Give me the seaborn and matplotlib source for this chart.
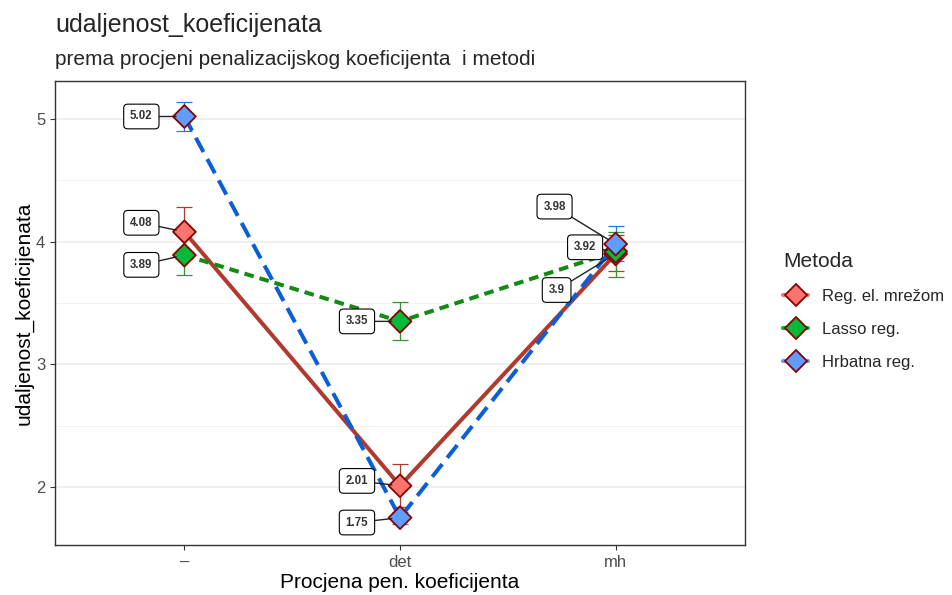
import pandas as pd
import numpy as np
import matplotlib.pyplot as plt
import seaborn as sns
from matplotlib.lines import Line2D

sns.set_style("white")
plt.rcParams['font.family'] = ['Liberation Sans', 'DejaVu Sans']

# Podaci očitani s grafa
procjene = ['–', 'det', 'mh']
metode = ['Reg. el. mrežom', 'Lasso reg.', 'Hrbatna reg.']

reg_el = [4.08, 2.01, 3.90]
lasso = [3.89, 3.35, 3.92]
hrbatna = [5.02, 1.75, 3.98]

reg_el_donja = [3.88, 1.84, 3.76]
reg_el_gornja = [4.28, 2.185, 4.05]
lasso_donja = [3.73, 3.20, 3.71]
lasso_gornja = [4.05, 3.51, 4.08]
hrbatna_donja = [4.90, 1.70, 3.84]
hrbatna_gornja = [5.14, 1.80, 4.13]

# Boje i stilovi
boje_ispune = {'Reg. el. mrežom': '#F8766D', 'Lasso reg.': '#00BA38', 'Hrbatna reg.': '#619CFF'}
boje_linija = {'Reg. el. mrežom': '#B03A2E', 'Lasso reg.': '#148A14', 'Hrbatna reg.': '#0B5ED7'}
boje_greske = {'Reg. el. mrežom': '#B03A2E', 'Lasso reg.': '#2E9A2E', 'Hrbatna reg.': '#2A76DD'}
crtice = {'Reg. el. mrežom': '', 'Lasso reg.': (2.4, 1.5), 'Hrbatna reg.': (4, 2)}

# pomaci oznaka (u točkama)
pomaci = {
    'Reg. el. mrežom': [(-31, 6.5), (-31, 3.5), (-42.5, -26)],
    'Lasso reg.': [(-31, -7), (-31, 0), (-22, 3)],
    'Hrbatna reg.': [(-31, 0), (-31, -3.5), (-44, 27)],
}

# Tablica u dugom formatu
vrijednosti = [reg_el, lasso, hrbatna]
donje = [reg_el_donja, lasso_donja, hrbatna_donja]
gornje = [reg_el_gornja, lasso_gornja, hrbatna_gornja]
redovi = []
for m, v, d, g in zip(metode, vrijednosti, donje, gornje):
    for i, p in enumerate(procjene):
        redovi.append({'metoda': m, 'procjena': p, 'x': i,
                       'vrijednost': v[i], 'donja': d[i], 'gornja': g[i]})
df = pd.DataFrame(redovi)

fig, ax = plt.subplots(figsize=(9.52, 5.95), dpi=100)
fig.subplots_adjust(left=0.0578, right=0.7826, top=0.864, bottom=0.084)

# Stupci pogreške
for m in metode:
    d = df[df['metoda'] == m]
    ax.errorbar(d['x'], d['vrijednost'],
                yerr=[d['vrijednost'] - d['donja'], d['gornja'] - d['vrijednost']],
                fmt='none', ecolor=boje_greske[m], elinewidth=0.9,
                capsize=5.8, capthick=0.9, zorder=2)

# Linije
sns.lineplot(data=df, x='x', y='vrijednost', hue='metoda', style='metoda',
             hue_order=metode, style_order=metode, palette=boje_linija,
             dashes=crtice, lw=2.9, legend=False, errorbar=None, ax=ax, zorder=3)

# Točke
sns.scatterplot(data=df, x='x', y='vrijednost', hue='metoda', hue_order=metode,
                palette=boje_ispune, marker='D', s=135, edgecolor='#8B0000',
                linewidth=1.3, legend=False, ax=ax, zorder=4)

# Oznake vrijednosti
for m in metode:
    d = df[df['metoda'] == m].reset_index(drop=True)
    for i, red in d.iterrows():
        ax.annotate(f"{red['vrijednost']:g}", xy=(red['x'], red['vrijednost']),
                    xytext=pomaci[m][i], textcoords='offset points',
                    ha='center', va='center', fontsize=8.3, fontweight='bold',
                    color='#333333', zorder=5,
                    bbox=dict(boxstyle='round,pad=0.55,rounding_size=0.35',
                              fc='white', ec='black', lw=0.8),
                    arrowprops=dict(arrowstyle='-', color='#222222', lw=1.0,
                                    shrinkA=0, shrinkB=6))

# Osi
ax.set_xlim(-0.6, 2.6)
ax.set_ylim(1.527, 5.31)
ax.set_xticks(range(len(procjene)))
ax.set_xticklabels(procjene)
ax.set_yticks([2, 3, 4, 5])
ax.set_yticks([2.5, 3.5, 4.5], minor=True)
ax.yaxis.grid(True, which='major', color='#EBEBEB', lw=1.1)
ax.yaxis.grid(True, which='minor', color='#F3F3F3', lw=0.7)
ax.xaxis.grid(False)
ax.set_axisbelow(True)
for s in ax.spines.values():
    s.set_color('#333333')
    s.set_linewidth(1.0)
ax.tick_params(axis='both', which='major', length=3.5, width=0.8, color='#333333',
               labelcolor='#4D4D4D', labelsize=12, direction='out', left=True, bottom=True)
ax.tick_params(axis='both', which='minor', length=0)

ax.set_xlabel('Procjena pen. koeficijenta', fontsize=15, color='black', labelpad=2)
ax.set_ylabel('udaljenost_koeficijenata', fontsize=15, color='black', labelpad=2)

fig.text(0.0578, 0.946, 'udaljenost_koeficijenata', fontsize=18, va='baseline', ha='left')
fig.text(0.0578, 0.891, 'prema procjeni penalizacijskog koeficijenta  i metodi',
         fontsize=15, va='baseline', ha='left')

# Legenda
rucke = [Line2D([0], [0], color=boje_ispune[m], lw=3, marker='D', markersize=11,
                markerfacecolor=boje_ispune[m], markeredgecolor='#8B0000',
                markeredgewidth=1.3) for m in metode]
fig.legend(rucke, metode, title='Metoda', loc='center left',
           bbox_to_anchor=(0.807, 0.478), frameon=False, fontsize=12,
           title_fontsize=15, handlelength=1.5, labelspacing=1.08,
           alignment='left')

plt.savefig('out.png', dpi=100)
